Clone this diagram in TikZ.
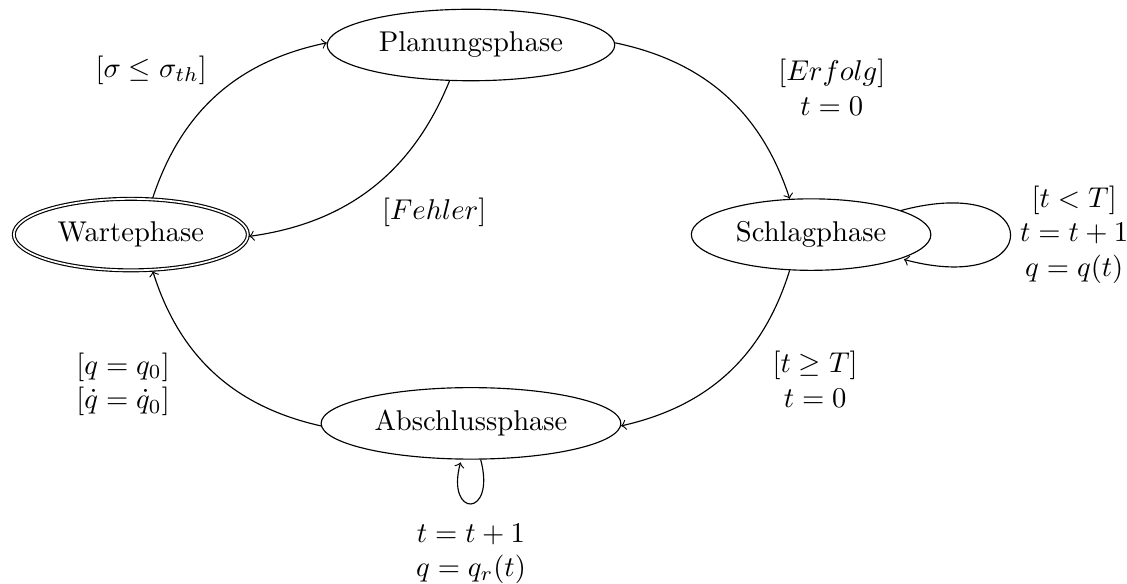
\documentclass[tikz,border=0pt]{standalone}
\usepackage{amsmath,amssymb}
\usetikzlibrary{automata,positioning,shapes.geometric}

\begin{document}
\begin{tikzpicture}[->,auto,every state/.style={ellipse,draw}]
\useasboundingbox (-5.788,0.553) rectangle (8.062,-6.624);
% states
\node[state] (plan) at (0,0) {Planungsphase};
\node[state,accepting] (warte) at (-4.18,-2.33) {Wartephase};
\node[state] (schlag) at (4.18,-2.33) {Schlagphase};
\node[state] (absch) at (0,-4.65) {Abschlussphase};
% transitions
\path (warte) edge[bend left] node {$[\sigma \leq \sigma_{th}]$} (plan)
      (plan) edge[bend left] node {$[Fehler]$} (warte)
      (plan) edge[bend left] node[align=center,xshift=15pt,yshift=-10.5pt] {$[Erfolg]$\\$t=0$} (schlag)
      (schlag) edge[loop right] node[align=center] {$[t<T]$\\$t=t+1$\\$q=q(t)$} ()
      (schlag) edge[bend left] node[align=center,xshift=12pt,yshift=11pt] {$[t\geq T]$\\$t=0$} (absch)
      (absch) edge[bend left] node[align=center,xshift=-12pt,yshift=10.5pt] {$[q=q_0]$\\$[\dot{q}=\dot{q}_0]$} (warte)
      (absch) edge[loop below] node[align=center,yshift=-3.5pt] {$t=t+1$\\$q=q_r(t)$} ();
\end{tikzpicture}
\end{document}
